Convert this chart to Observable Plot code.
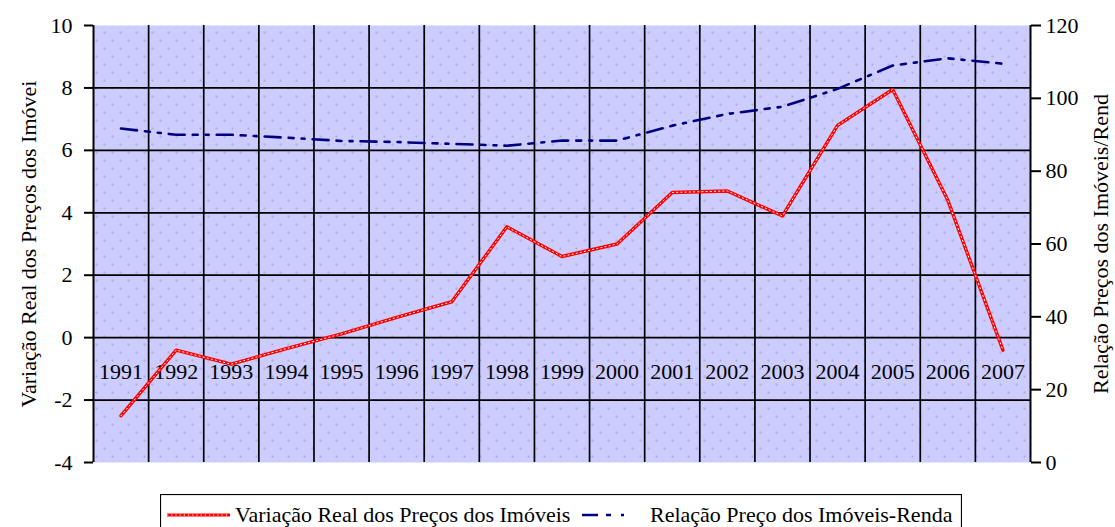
<!DOCTYPE html>
<html>
<head>
<meta charset="utf-8">
<script src="https://cdn.jsdelivr.net/npm/d3@7"></script>
<script src="https://cdn.jsdelivr.net/npm/@observablehq/plot@0.6"></script>
<style>
  html, body { margin: 0; padding: 0; background: #fff; }
  #wrap { position: relative; width: 1115px; height: 527px; overflow: hidden; }
  #legend { position: absolute; left: 160px; top: 494px; }
</style>
</head>
<body>
<div id="wrap"><div id="chart"></div><svg id="legend" width="802" height="40"></svg></div>
<script>
// ---- data ----
const years = [1991, 1992, 1993, 1994, 1995, 1996, 1997, 1998, 1999, 2000, 2001, 2002, 2003, 2004, 2005, 2006, 2007];
const variacao = [-2.5, -0.4, -0.85, -0.35, 0.12, 0.65, 1.15, 3.55, 2.6, 3.0, 4.65, 4.7, 3.9, 6.8, 7.95, 4.4, -0.4];
const relacao = [91.7, 90, 90, 89.2, 88.3, 88, 87.5, 87, 88.4, 88.4, 92.5, 95.7, 97.7, 102.6, 109, 111, 109.5];
const leftTicks = [-4, -2, 0, 2, 4, 6, 8, 10];
const rightTicks = [0, 20, 40, 60, 80, 100, 120];
const leftTitle = "Variação Real dos Preços dos Imóvei";
const rightTitle = "Relação Preços dos Imóveis/Rend";
const legendLabels = ["Variação Real dos Preços dos Imóveis", "Relação Preço dos Imóveis-Renda"];

// right axis (0..120) mapped onto left axis (-4..10)
const toLeft = r => -4 + r * 14 / 120;
const toRight = v => Math.round((v + 4) * 120 / 14);

const rows = years.map((y, i) => ({year: y, v: variacao[i], r: relacao[i]}));
const boundaries = years.slice(1).map(y => y - 0.5);
const edges = [years[0] - 0.5, years[years.length - 1] + 0.5];
const font = "Liberation Serif";

const chart = Plot.plot({
  width: 1115,
  height: 490,
  marginLeft: 93,
  marginRight: 85,
  marginTop: 25,
  marginBottom: 28,
  x: {domain: edges, axis: null},
  y: {domain: [-4, 10]},
  style: {fontFamily: font, fontSize: "22px", color: "black", background: "white", overflow: "visible"},
  marks: [
    Plot.frame({fill: "url(#dots)", stroke: null}),
    Plot.ruleY(leftTicks.filter(v => v > -4 && v < 10), {stroke: "black", strokeWidth: 1.7}),
    Plot.ruleX(boundaries, {stroke: "black", strokeWidth: 1.7}),
    Plot.ruleX(edges, {stroke: "black", strokeWidth: 2}),
    Plot.axisY(leftTicks, {anchor: "left", tickSize: 9, tickPadding: 12, stroke: "black", strokeWidth: 2, label: null, fontSize: 22, fontFamily: font, tickFormat: v => String(v)}),
    Plot.axisY(rightTicks.map(toLeft), {anchor: "right", tickSize: 10, tickPadding: 5, stroke: "black", strokeWidth: 2, label: null, fontSize: 22, fontFamily: font, tickFormat: v => String(toRight(v))}),
    Plot.text(years, {x: d => d, y: 0, dy: 34, text: d => String(d), fontSize: 22, fontFamily: font, fill: "black"}),
    Plot.line(rows, {x: "year", y: d => toLeft(d.r), stroke: "#000080", strokeWidth: 2.6, strokeDasharray: "16,8,5,8,3,8"}),
    Plot.line(rows, {x: "year", y: "v", stroke: "#ff0000", strokeWidth: 3.4}),
    Plot.line(rows, {x: "year", y: "v", stroke: "white", strokeWidth: 1, strokeDasharray: "1.2,3"}),
    Plot.text([leftTitle], {frameAnchor: "left", textAnchor: "middle", dx: -65, rotate: -90, fontSize: 22, fontFamily: font, fill: "black"}),
    Plot.text([rightTitle], {frameAnchor: "right", textAnchor: "middle", dx: 70, rotate: -90, fontSize: 22, fontFamily: font, fill: "black"})
  ]
});

d3.select(chart).insert("defs", ":first-child").html(
  `<pattern id="dots" patternUnits="userSpaceOnUse" x="-4" y="-4" width="16" height="16">
     <rect width="16" height="16" fill="#CCCCFF"/>
     <rect x="11.3" y="3.3" width="1.4" height="1.4" fill="#9090a8"/>
     <rect x="3.3" y="11.3" width="1.4" height="1.4" fill="#9090a8"/>
   </pattern>`
);
document.getElementById("chart").appendChild(chart);

// ---- legend ----
const lg = d3.select("#legend");
lg.append("rect").attr("x", 0.5).attr("y", 0.5).attr("width", 801).attr("height", 60)
  .attr("fill", "white").attr("stroke", "black").attr("stroke-width", 1.2);
lg.append("line").attr("x1", 7).attr("x2", 70).attr("y1", 21).attr("y2", 21)
  .attr("stroke", "#ff0000").attr("stroke-width", 3);
lg.append("line").attr("x1", 7).attr("x2", 70).attr("y1", 21).attr("y2", 21)
  .attr("stroke", "white").attr("stroke-width", 1).attr("stroke-dasharray", "1.2,3");
lg.append("text").attr("x", 75).attr("y", 28).attr("font-family", font).attr("font-size", 22)
  .text(legendLabels[0]);
lg.append("line").attr("x1", 422).attr("x2", 465).attr("y1", 21).attr("y2", 21)
  .attr("stroke", "#000080").attr("stroke-width", 2.6).attr("stroke-dasharray", "16,8,5,10,3,10");
lg.append("text").attr("x", 490).attr("y", 28).attr("font-family", font).attr("font-size", 22)
  .text(legendLabels[1]);
</script>
</body>
</html>
